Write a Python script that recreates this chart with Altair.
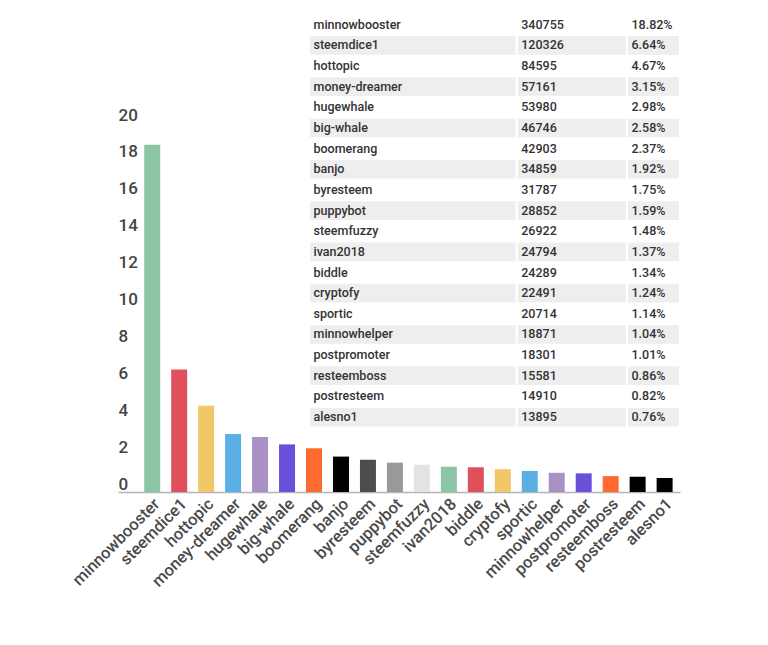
import altair as alt
import pandas as pd

# ---------------- data ----------------
names = ["minnowbooster", "steemdice1", "hottopic", "money-dreamer", "hugewhale",
         "big-whale", "boomerang", "banjo", "byresteem", "puppybot", "steemfuzzy",
         "ivan2018", "biddle", "cryptofy", "sportic", "minnowhelper", "postpromoter",
         "resteemboss", "postresteem", "alesno1"]
counts = [340755, 120326, 84595, 57161, 53980, 46746, 42903, 34859, 31787, 28852,
          26922, 24794, 24289, 22491, 20714, 18871, 18301, 15581, 14910, 13895]
pcts = [18.82, 6.64, 4.67, 3.15, 2.98, 2.58, 2.37, 1.92, 1.75, 1.59,
        1.48, 1.37, 1.34, 1.24, 1.14, 1.04, 1.01, 0.86, 0.82, 0.76]
bar_colors = ["#8cc5a6", "#e0505c", "#f0c868", "#5ab0e4", "#a991c6", "#6a4fd9",
              "#ff6a30", "#000000", "#4d4d4d", "#999999", "#e3e3e3",
              "#8cc5a6", "#e0505c", "#f0c868", "#5ab0e4", "#a991c6", "#6a4fd9",
              "#ff6a30", "#000000", "#000000"]
y_ticks = [0, 2, 4, 6, 8, 10, 12, 14, 16, 18, 20]

# table column edges as fractions of the table width (layout)
col_edges = [0.0, 0.56, 0.857, 1.0]

FONT = "Roboto"
W, H = 562, 478

bars_df = pd.DataFrame({"name": names, "pct": pcts, "color": bar_colors})

rows = []
for i, (n, c, p) in enumerate(zip(names, counts, pcts)):
    cells = [n, str(c), f"{p:.2f}%"]
    for j, t in enumerate(cells):
        rows.append({"name": n, "text": t, "x0": col_edges[j], "x1": col_edges[j + 1],
                     "shade": i % 2 == 1})
table_df = pd.DataFrame(rows)

bars = alt.Chart(bars_df).mark_bar().encode(
    x=alt.X("name:N", sort=names,
            scale=alt.Scale(paddingInner=0.407, paddingOuter=0.623, align=0.78),
            axis=alt.Axis(title=None, labelAngle=315, labelAlign="right",
                          labelBaseline="middle", labelPadding=9, labelOffset=5,
                          ticks=False, domainColor="#b5b5b5", domainWidth=1.5,
                          labelFont=FONT, labelFontSize=16.5, labelFontWeight=500,
                          labelColor="#4a4a4a")),
    y=alt.Y("pct:Q", scale=alt.Scale(domain=[0, H / 18.45], nice=False),
            axis=alt.Axis(title=None, values=y_ticks, grid=False, domain=False,
                          ticks=False, labelAlign="left", labelPadding=0,
                          labelBaseline="alphabetic", labelOffset=-3,
                          labelFont=FONT, labelFontSize=17, labelFontWeight=500,
                          labelColor="#444444")),
    color=alt.Color("color:N", scale=None),
)

tx = alt.Scale(domain=[0, 1], range=[191, 562])
ty = alt.Scale(domain=names, range=[0.4, 0.4 + 20 * 20.65], paddingInner=0, paddingOuter=0)

shade = alt.Chart(table_df).transform_filter("datum.shade").mark_rect(
    color="#eeeeee", stroke="white", strokeWidth=2
).encode(
    x=alt.X("x0:Q", scale=tx, axis=None),
    x2="x1:Q",
    y=alt.Y("name:N", sort=names, scale=ty, axis=None),
)

text = alt.Chart(table_df).mark_text(
    align="left", baseline="middle", dx=4.5, font=FONT, fontSize=12.5,
    fontWeight=500, color="#333333"
).encode(
    x=alt.X("x0:Q", scale=tx, axis=None),
    y=alt.Y("name:N", sort=names, scale=ty, axis=None),
    text="text:N",
)

table = alt.layer(shade, text)

chart = alt.layer(bars, table).resolve_scale(x="independent", y="independent").properties(
    width=W, height=H,
    autosize=alt.AutoSizeParams(type="none"),
    padding={"left": 110, "top": 6, "right": 20, "bottom": 140},
).configure_view(stroke=None)

chart.save("out.html", embed_options={"renderer": "svg", "actions": False})
